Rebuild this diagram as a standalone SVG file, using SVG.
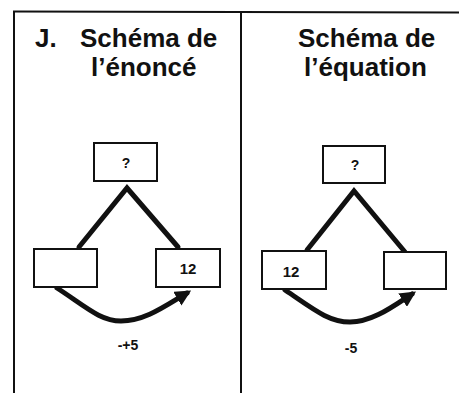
<svg xmlns="http://www.w3.org/2000/svg" width="459" height="393" viewBox="0 0 459 393">
<style>
.frame{stroke:#111;stroke-width:2;fill:none}
.box{fill:#fff;stroke:#111;stroke-width:2}
.conn{fill:none;stroke:#111;stroke-width:5;stroke-linecap:round;stroke-linejoin:miter}
.title{font-family:"Liberation Sans",Arial,sans-serif;font-weight:bold;font-size:26px;fill:#111}
.lbl{font-family:"Liberation Sans",Arial,sans-serif;font-weight:bold;font-size:14px;fill:#111;text-anchor:middle}
.num{font-size:15px}
</style>
<defs>
<marker id="ah" viewBox="0 0 10 10" refX="7" refY="5" markerWidth="3.2" markerHeight="3.2" orient="auto" markerUnits="strokeWidth">
<path d="M0,0 L10,5 L0,10 Z" fill="#111"/>
</marker>
</defs>
<rect width="459" height="393" fill="#fff"/>
<g id="frame">
<line class="frame" x1="14" y1="11" x2="14" y2="393"/>
<line class="frame" x1="13" y1="11.5" x2="459" y2="12.5"/>
<line class="frame" x1="241" y1="12" x2="241" y2="393"/>
</g>
<g id="titles">
<text class="title" x="35" y="47">J.</text>
<text class="title" x="80" y="47">Schéma de</text>
<text class="title" x="91" y="76">l’énoncé</text>
<text class="title" x="298" y="47">Schéma de</text>
<text class="title" x="304" y="76">l’équation</text>
</g>
<g id="connectors">
<polyline class="conn" points="79,247 127,188 178,247"/>
<path class="conn" d="M57,288 C85,306 100,321 121,321 C145,321 165,306 187,293" marker-end="url(#ah)"/>
<polyline class="conn" points="307,250 354,191 405,252"/>
<path class="conn" d="M285,290 C312,308 328,322 350,322 C372,322 392,307 412,294" marker-end="url(#ah)"/>
</g>
<g id="node-l-top">
<rect class="box" x="94" y="143" width="63" height="38"/>
<text class="lbl" x="126" y="168">?</text>
</g>
<g id="node-l-left">
<rect class="box" x="34" y="249" width="63" height="38"/>
</g>
<g id="node-l-right">
<rect class="box" x="156" y="249" width="64" height="38"/>
<text class="lbl num" x="188" y="274">12</text>
</g>
<g id="node-r-top">
<rect class="box" x="323" y="146" width="62" height="37"/>
<text class="lbl" x="355" y="170">?</text>
</g>
<g id="node-r-left">
<rect class="box" x="262" y="251" width="64" height="38"/>
<text class="lbl num" x="291" y="277">12</text>
</g>
<g id="node-r-right">
<rect class="box" x="384" y="252" width="62" height="37"/>
</g>
<g id="labels">
<text class="lbl" x="128" y="350">-+5</text>
<text class="lbl" x="351" y="353">-5</text>
</g>
</svg>
